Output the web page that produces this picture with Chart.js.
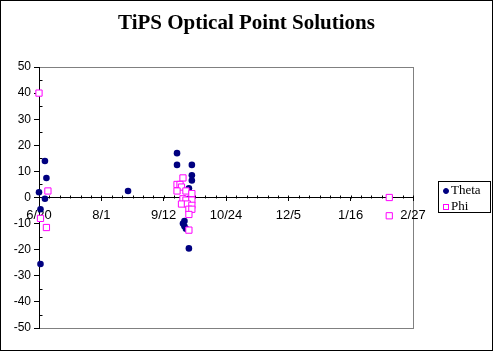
<!DOCTYPE html>
<html>
<head>
<meta charset="utf-8">
<script src="https://cdn.jsdelivr.net/npm/chart.js@4"></script>
<style>
  body { margin: 0; background: #fff; }
  #wrap { position: relative; width: 493px; height: 351px; }
  #chartTitle {
    position: absolute; left: 0; top: 10px; width: 493px; text-align: center;
    font: bold 21px "Liberation Serif", serif; color: #000; line-height: 24px;
  }
  #customLegend {
    position: absolute; left: 438px; top: 181px; width: 51px; height: 30px;
    border: 1px solid #000; background: #fff;
    font: 13px "Liberation Serif", serif; color: #000;
  }
  #customLegend ul { list-style: none; margin: 0; padding: 0; }
  #customLegend li { position: relative; height: 16px; line-height: 16px; }
  #customLegend span { position: absolute; left: 4px; top: 6px; width: 6px; height: 6px; box-sizing: border-box; }
  #customLegend p { margin: 0 0 0 12px; }
</style>
</head>
<body>
<div id="wrap">
  <canvas id="tipsChart" width="493" height="351"></canvas>
  <div id="chartTitle">TiPS Optical Point Solutions</div>
</div>
<script>
// x axis runs from launch day over 6 steps of 42 days
const startDate = "1996-06-20";
const xTickLabels = ["6/20", "8/1", "9/12", "10/24", "12/5", "1/16", "2/27"];

const thetaDates = [
  "1996-06-20", "1996-06-24", "1996-06-25", "1996-06-24", "1996-06-21", "1996-06-21",
  "1996-08-19",
  "1996-09-21", "1996-09-21", "1996-10-01", "1996-10-01", "1996-10-01", "1996-09-29",
  "1996-09-29", "1996-09-26", "1996-09-25", "1996-09-26", "1996-09-27", "1996-09-29"
];
const thetaValues = [
  2, 14, 7.5, -0.5, -4.5, -25.5,
  2.5,
  17, 12.5, 12.5, 8.5, 6.5, 3.5,
  -0.5, -9, -10, -11, -12, -19.5
];

const phiDates = [
  "1996-06-20", "1996-06-26", "1996-06-21", "1996-06-25",
  "1996-09-25", "1996-09-21", "1996-09-23", "1996-09-24", "1996-09-21", "1996-09-27",
  "1996-10-01", "1996-09-25", "1996-09-27", "1996-10-01", "1996-09-24", "1996-09-28",
  "1996-10-01", "1996-09-29", "1996-10-01", "1996-09-29", "1996-09-29",
  "1997-02-11", "1997-02-11"
];
const phiValues = [
  40, 2.5, -8, -11.5,
  7.5, 5, 5, 4, 2.5, 2.5,
  1.5, -0.5, -1, -1, -2.5, -2.5,
  -3, -4.5, -4.5, -6.5, -12.5,
  0, -7
];

function dayOffset(d) {
  return (Date.parse(d) - Date.parse(startDate)) / 86400000;
}

function toPoints(dates, values) {
  return dates.map((d, i) => ({ x: dayOffset(d), y: values[i] }));
}

// custom legend box, built from the chart's datasets
function generateLegend(locationID, chart) {
  const location = document.getElementById(locationID);
  const div = document.createElement("DIV");
  div.setAttribute("id", "customLegend");
  const ul = document.createElement("UL");

  chart.data.datasets.forEach((dataset) => {
    const li = document.createElement("LI");
    const spanBox = document.createElement("SPAN");
    spanBox.style.backgroundColor = dataset.backgroundColor;
    spanBox.style.border = "1px solid " + dataset.borderColor;
    if (dataset.pointStyle === "circle") spanBox.style.borderRadius = "50%";
    const p = document.createElement("P");
    p.appendChild(document.createTextNode(dataset.label));
    li.appendChild(spanBox);
    li.appendChild(p);
    ul.appendChild(li);
  });

  div.appendChild(ul);
  location.appendChild(div);
}

// gray plot frame, outer border and the small minor tick marks
const framePlugin = {
  id: "frame",
  beforeDraw(chart) {
    const { ctx, chartArea: a } = chart;
    ctx.save();
    ctx.fillStyle = "#fff";
    ctx.fillRect(0, 0, chart.width, chart.height);
    ctx.strokeStyle = "#808080";
    ctx.lineWidth = 1;
    ctx.strokeRect(Math.round(a.left) + 0.5, Math.round(a.top) + 0.5,
      Math.round(a.right - a.left), Math.round(a.bottom - a.top));
    ctx.restore();
  },
  beforeDatasetsDraw(chart) {
    const { ctx } = chart;
    const xs = chart.scales.x;
    const ys = chart.scales.y;
    const y0 = Math.round(ys.getPixelForValue(0)) + 0.5;
    const x0 = Math.round(xs.getPixelForValue(0)) + 0.5;
    ctx.save();
    ctx.strokeStyle = "#000";
    ctx.lineWidth = 1;
    ctx.beginPath();
    for (let d = 0; d <= 252; d += 7) {
      const px = Math.round(xs.getPixelForValue(d)) + 0.5;
      ctx.moveTo(px, y0);
      ctx.lineTo(px, y0 - 3);
    }
    for (let v = -45; v < 50; v += 10) {
      const py = Math.round(ys.getPixelForValue(v)) + 0.5;
      ctx.moveTo(x0, py);
      ctx.lineTo(x0 + 3, py);
    }
    ctx.stroke();
    ctx.restore();
  },
  afterDraw(chart) {
    const { ctx } = chart;
    ctx.save();
    ctx.strokeStyle = "#000";
    ctx.lineWidth = 1;
    ctx.strokeRect(0.5, 0.5, chart.width - 1, chart.height - 1);
    ctx.restore();
  },
};

const ctx = document.getElementById("tipsChart");

const dataChart = new Chart(ctx, {
  type: "scatter",
  data: {
    datasets: [
      {
        label: "Theta",
        data: toPoints(thetaDates, thetaValues),
        pointStyle: "circle",
        pointRadius: 3.3,
        borderWidth: 0,
        backgroundColor: "#000080",
        borderColor: "#000080",
        clip: false,
        order: 2,
      },
      {
        label: "Phi",
        data: toPoints(phiDates, phiValues),
        pointStyle: "rect",
        pointRadius: 4.4,
        borderWidth: 1,
        backgroundColor: "#ffffff",
        borderColor: "#ff00ff",
        clip: false,
        order: 1,
      },
    ],
  },
  options: {
    responsive: false,
    animation: false,
    devicePixelRatio: 1,
    layout: { padding: { left: 0, right: 80, top: 67, bottom: 23 } },
    scales: {
      x: {
        type: "linear",
        position: { y: 0 },
        min: 0,
        max: 252,
        grid: {
          drawOnChartArea: false,
          tickLength: 3,
          tickColor: (c) => (c.tick && c.tick.value % 42 === 0 ? "#000" : "rgba(0,0,0,0)"),
        },
        border: { color: "#000", width: 1 },
        ticks: {
          stepSize: 7,
          autoSkip: false,
          maxRotation: 0,
          padding: 7,
          color: "#000",
          font: { family: "Liberation Sans", size: 13 },
          callback: (v) => (v % 42 === 0 ? xTickLabels[v / 42] : ""),
        },
      },
      y: {
        min: -50,
        max: 50,
        afterFit: (scale) => { scale.width = 39; },
        grid: { drawOnChartArea: false, tickLength: 5, tickColor: "#000" },
        border: { color: "#000", width: 1 },
        ticks: {
          stepSize: 10,
          padding: 3,
          color: "#000",
          font: { family: "Liberation Sans", size: 12 },
        },
      },
    },
    plugins: {
      legend: { display: false },
      tooltip: { enabled: false },
      title: { display: false },
    },
  },
  plugins: [framePlugin],
});

generateLegend("wrap", dataChart);
</script>
</body>
</html>
